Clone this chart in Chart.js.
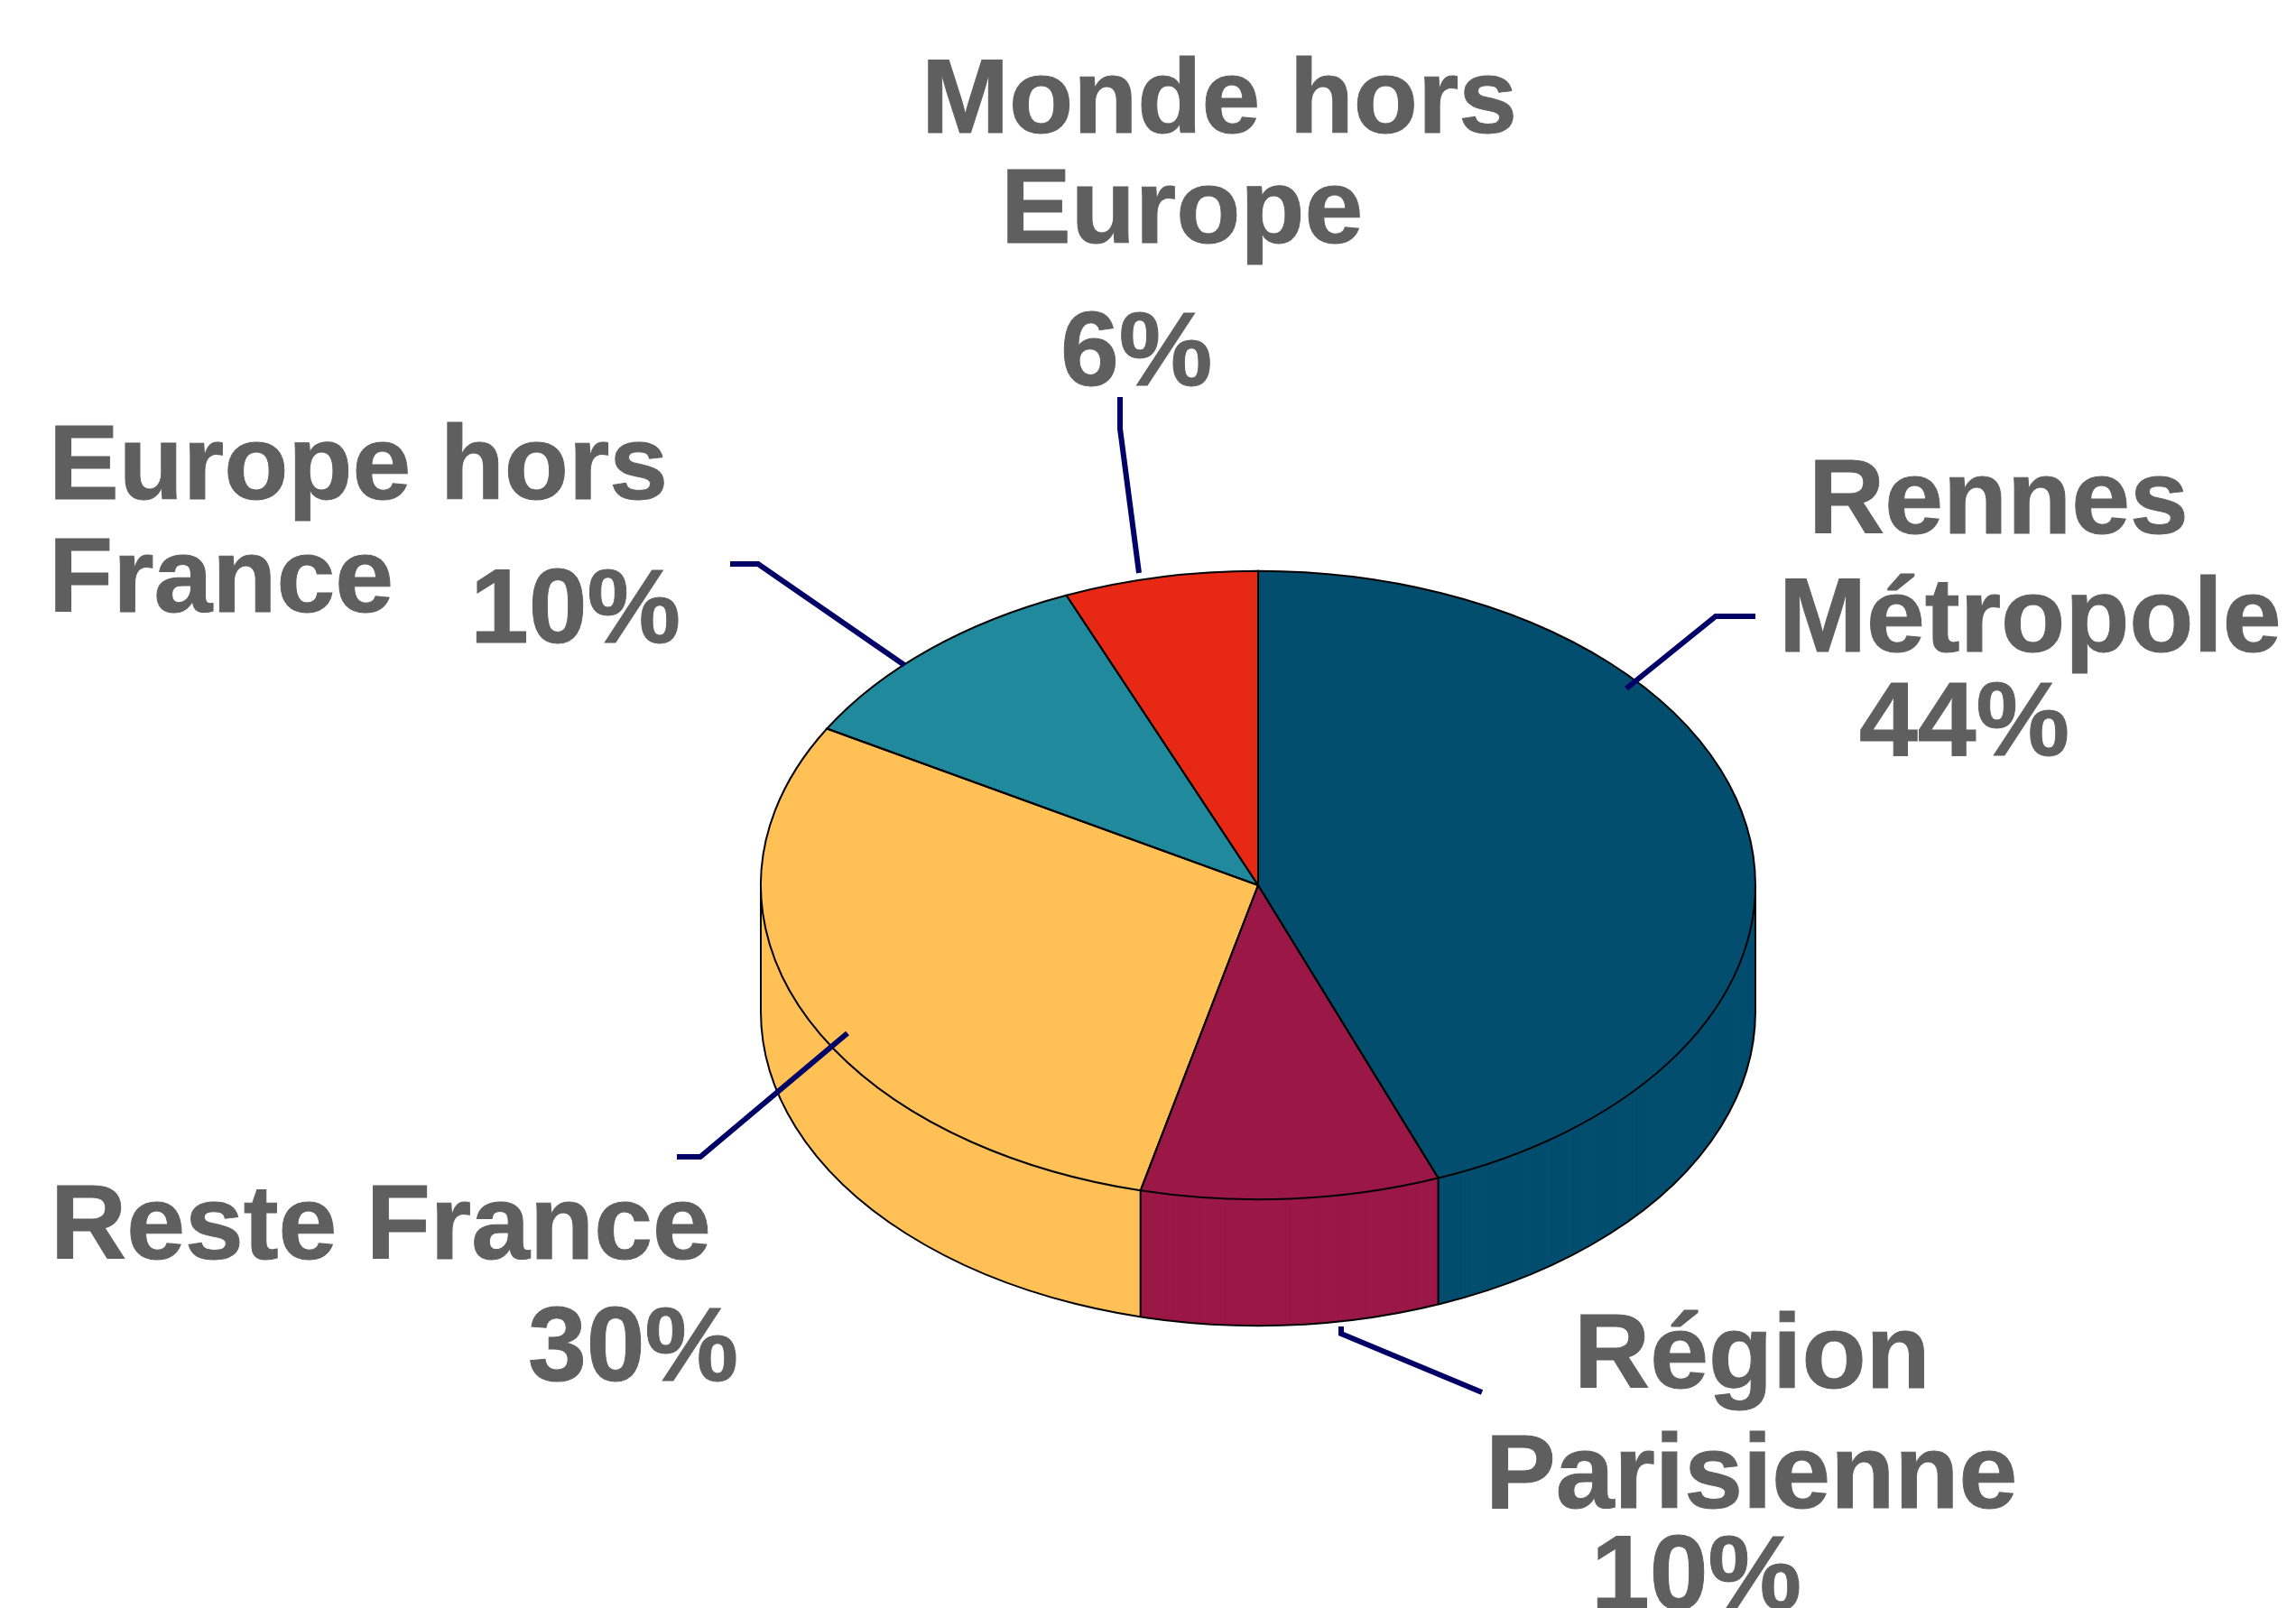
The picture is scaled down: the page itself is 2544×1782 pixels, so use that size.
<!DOCTYPE html>
<html lang="fr">
<head>
<meta charset="utf-8">
<title>Répartition</title>
<script src="https://cdn.jsdelivr.net/npm/chart.js@4"></script>
<style>
  html, body { margin: 0; padding: 0; background: #fff; overflow: hidden; }
  canvas { display: block; }
</style>
</head>
<body>
<canvas id="pie" width="2544" height="1782"></canvas>
<script>
const categories = ['Rennes Métropole', 'Région Parisienne', 'Reste France', 'Europe hors France', 'Monde hors Europe']
const shares = [44.1, 9.7, 29.5, 10.4, 6.3]
const sliceColors = ['#034E6F', '#9B1846', '#FFC056', '#20899B', '#E62814']

// tilt of the fake 3D disc
const RADIUS = 551
const TILT = 0.632
const DEPTH = 140

// text blocks: [line, x, baseline]
const labelLines = [
  [['Rennes', 2004, 591], ['Métropole', 1971, 722], ['44%', 2060, 837]],
  [['Région', 1744, 1538], ['Parisienne', 1646, 1671], ['10%', 1763, 1783]],
  [['Reste France', 56, 1395], ['30%', 585, 1530]],
  [['Europe hors', 54, 553], ['France', 54, 678], ['10%', 521, 712]],
  [['Monde hors', 1021, 147], ['Europe', 1109, 269], ['6%', 1175, 427]],
]

const leaderLines = [
  [[1945, 683], [1901, 683], [1802, 763]],
  [[1486, 1470], [1486, 1478], [1642, 1543]],
  [[750, 1282], [776, 1282], [939, 1145]],
  [[809, 625], [840, 625], [1002, 737]],
  [[1241, 440], [1241, 475], [1262, 635]],
]

const tilted = (ctx, cy, dy, fn) => {
  ctx.save()
  ctx.translate(0, cy + dy)
  ctx.scale(1, TILT)
  ctx.translate(0, -cy)
  fn()
  ctx.restore()
}

const disc3d = {
  id: 'disc3d',
  beforeDatasetDraw(chart) {
    const ctx = chart.ctx
    const arcs = chart.getDatasetMeta(0).data
    const { x: cx, y: cy, outerRadius: r } = arcs[0]

    // side wall, stacked from the bottom up
    for (let d = DEPTH; d > 0; d--) {
      tilted(ctx, cy, d, () => arcs.forEach((arc) => arc.draw(ctx)))
    }

    ctx.strokeStyle = '#000'
    ctx.lineWidth = 2

    // bottom rim
    ctx.save()
    ctx.beginPath()
    tilted(ctx, cy, DEPTH, () => ctx.arc(cx, cy, r, 0, Math.PI))
    ctx.stroke()

    // wall edges: disc extremes and slice borders on the front half
    const edges = [0, Math.PI]
    arcs.forEach((arc) => {
      const a = arc.endAngle
      if (Math.sin(a) > 0) edges.push(a)
    })
    edges.forEach((a) => {
      const x = cx + Math.cos(a) * r
      const y = cy + Math.sin(a) * r * TILT
      ctx.beginPath()
      ctx.moveTo(x, y)
      ctx.lineTo(x, y + DEPTH)
      ctx.stroke()
    })
    ctx.restore()

    // top face
    tilted(ctx, cy, 0, () => arcs.forEach((arc) => arc.draw(ctx)))
    arcs.forEach((arc) => {
      ctx.beginPath()
      tilted(ctx, cy, 0, () => {
        ctx.moveTo(cx, cy)
        ctx.arc(cx, cy, r, arc.startAngle, arc.endAngle)
        ctx.closePath()
      })
      ctx.stroke()
    })
    return false
  },
  afterDraw(chart) {
    const ctx = chart.ctx
    ctx.save()

    ctx.strokeStyle = '#000066'
    ctx.lineWidth = 6
    ctx.lineJoin = 'miter'
    leaderLines.forEach((pts) => {
      ctx.beginPath()
      pts.forEach(([x, y], i) => (i ? ctx.lineTo(x, y) : ctx.moveTo(x, y)))
      ctx.stroke()
    })

    // a little heavier than plain bold, like the original export
    ctx.fillStyle = '#5F5F5F'
    ctx.strokeStyle = '#5F5F5F'
    ctx.lineWidth = 1
    ctx.font = 'bold 116.5px "Liberation Sans", Arial, sans-serif'
    ctx.textAlign = 'left'
    ctx.textBaseline = 'alphabetic'
    labelLines.forEach((lines) => {
      lines.forEach(([text, x, y]) => {
        ctx.fillText(text, x, y)
        ctx.strokeText(text, x, y)
      })
    })
    ctx.restore()
  },
}

new Chart(document.getElementById('pie').getContext('2d'), {
  type: 'pie',
  data: {
    labels: categories,
    datasets: [{
      data: shares,
      backgroundColor: sliceColors,
      borderWidth: 0,
    }],
  },
  options: {
    responsive: false,
    animation: false,
    radius: RADIUS,
    // puts the disc centre at 1394,981
    layout: { padding: { left: 244, top: 180 } },
    plugins: {
      legend: { display: false },
      tooltip: { enabled: false },
    },
  },
  plugins: [disc3d],
})
</script>
</body>
</html>
